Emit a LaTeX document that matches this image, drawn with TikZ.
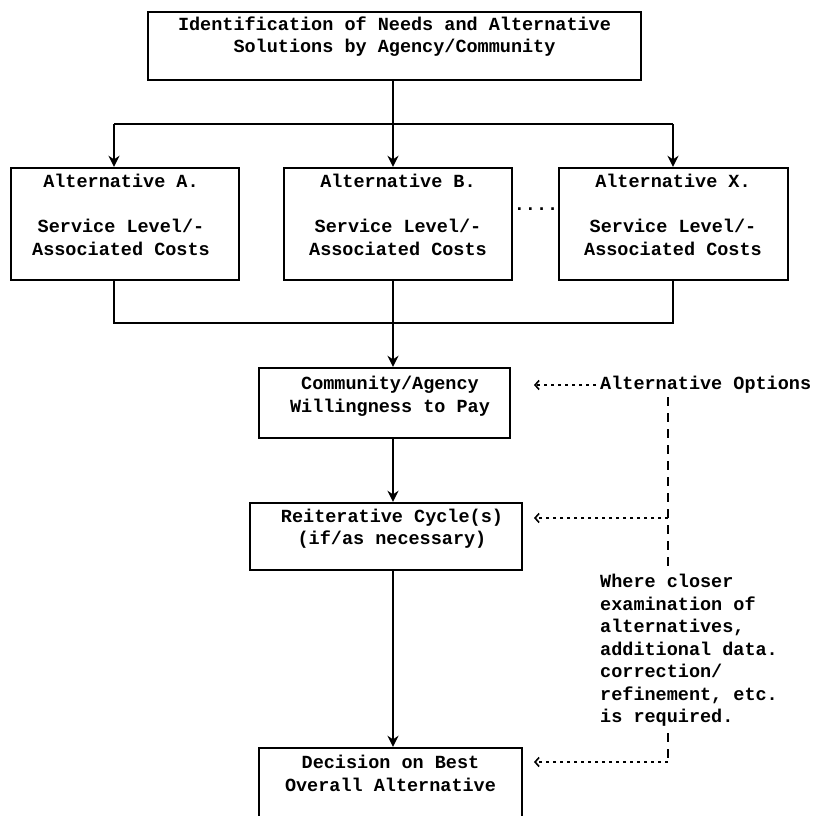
\documentclass[tikz,border=0pt]{standalone}
\usepackage{fontspec}
\setmainfont{Liberation Mono}
\usetikzlibrary{arrows.meta}
\begin{document}
\begin{tikzpicture}[x=1pt,y=-1pt,
  box/.style={draw, line width=2.4pt, inner sep=0pt},
  txt/.style={font=\fontsize{18.5}{22.5}\selectfont\bfseries, align=center, inner sep=0pt},
  ltxt/.style={font=\fontsize{18.5}{22.5}\selectfont\bfseries, align=left, inner sep=0pt},
  ln/.style={line width=2.4pt},
  arr/.style={line width=2.4pt, -{Stealth[length=11pt,width=11pt]}},
  dotarr/.style={line width=1.6pt, dash pattern=on 3pt off 4pt, -{Straight Barb[length=4pt,width=9pt]}},
  dsh/.style={line width=1.8pt, dash pattern=on 9pt off 7pt}]
\useasboundingbox (0,0) rectangle (816,816);
% boxes
\node[box, minimum width=493pt, minimum height=68pt] (top) at (394.5,46) {};
\node[txt] (topT) at (394.5,36.5) {Identification of Needs and Alternative\\Solutions by Agency/Community};
\node[box, minimum width=228pt, minimum height=112pt] (A) at (125,224) {};
\node[box, minimum width=228pt, minimum height=112pt] (B) at (398,224) {};
\node[box, minimum width=229pt, minimum height=112pt] (X) at (673.5,224) {};
\node[txt] (AT) at (121,215) {Alternative A.\\[22.5pt]Service Level/-\\Associated Costs};
\node[txt] (BT) at (398,215) {Alternative B.\\[22.5pt]Service Level/-\\Associated Costs};
\node[txt] (XT) at (673,215) {Alternative X.\\[22.5pt]Service Level/-\\Associated Costs};
\node[txt, anchor=base] (dots) at (536,210) {....};
\node[box, minimum width=251pt, minimum height=70pt] (comm) at (384.5,403) {};
\node[txt] (commT) at (390,396.5) {Community/Agency\\Willingness to Pay};
\node[box, minimum width=272pt, minimum height=67pt] (reit) at (386,536.5) {};
\node[txt] (reitT) at (392,528.5) {Reiterative Cycle(s)\\(if/as necessary)};
\node[box, minimum width=263pt, minimum height=70pt] (dec) at (390.5,783) {};
\node[txt] (decT) at (390.5,773.5) {Decision on Best\\Overall Alternative};
% right side texts
\node[ltxt, anchor=west] (opt) at (600,385) {Alternative Options};
\node[ltxt, anchor=west] (where) at (600,650.5) {Where closer\\examination of\\alternatives,\\additional data.\\correction/\\refinement, etc.\\is required.};
% coordinates
\coordinate (bl) at (114,124);
\coordinate (bm) at (393,124);
\coordinate (br) at (673,124);
\coordinate (jl) at (114,323);
\coordinate (jm) at (393,323);
\coordinate (jr) at (673,323);
\coordinate (o1) at (596,385);
\coordinate (o2) at (534,385);
\coordinate (v1) at (668,397);
\coordinate (v2) at (668,518);
\coordinate (v3) at (668,573);
\coordinate (r2) at (534,518);
\coordinate (v4) at (668,733);
\coordinate (v5) at (668,762);
\coordinate (d2) at (534,762);
% solid connectors
\draw[ln] (bm |- top.south) -- (bm);
\draw[ln] (bl) -- (br);
\draw[arr] (bl) -- (bl |- A.north);
\draw[arr] (bm) -- (bm |- B.north);
\draw[arr] (br) -- (br |- X.north);
\draw[ln] (jl |- A.south) -- (jl) -- (jr) -- (jr |- X.south);
\draw[ln] (jm |- B.south) -- (jm);
\draw[arr] (jm) -- (jm |- comm.north);
\draw[arr] (jm |- comm.south) -- (jm |- reit.north);
\draw[arr] (jm |- reit.south) -- (jm |- dec.north);
% dashed feedback
\draw[dotarr] (o1) -- (o2);
\draw[dsh] (v1) -- (v3);
\draw[dotarr] (v2) -- (r2);
\draw[dsh] (v4) -- (v5);
\draw[dotarr] (v5) -- (d2);
\end{tikzpicture}
\end{document}
